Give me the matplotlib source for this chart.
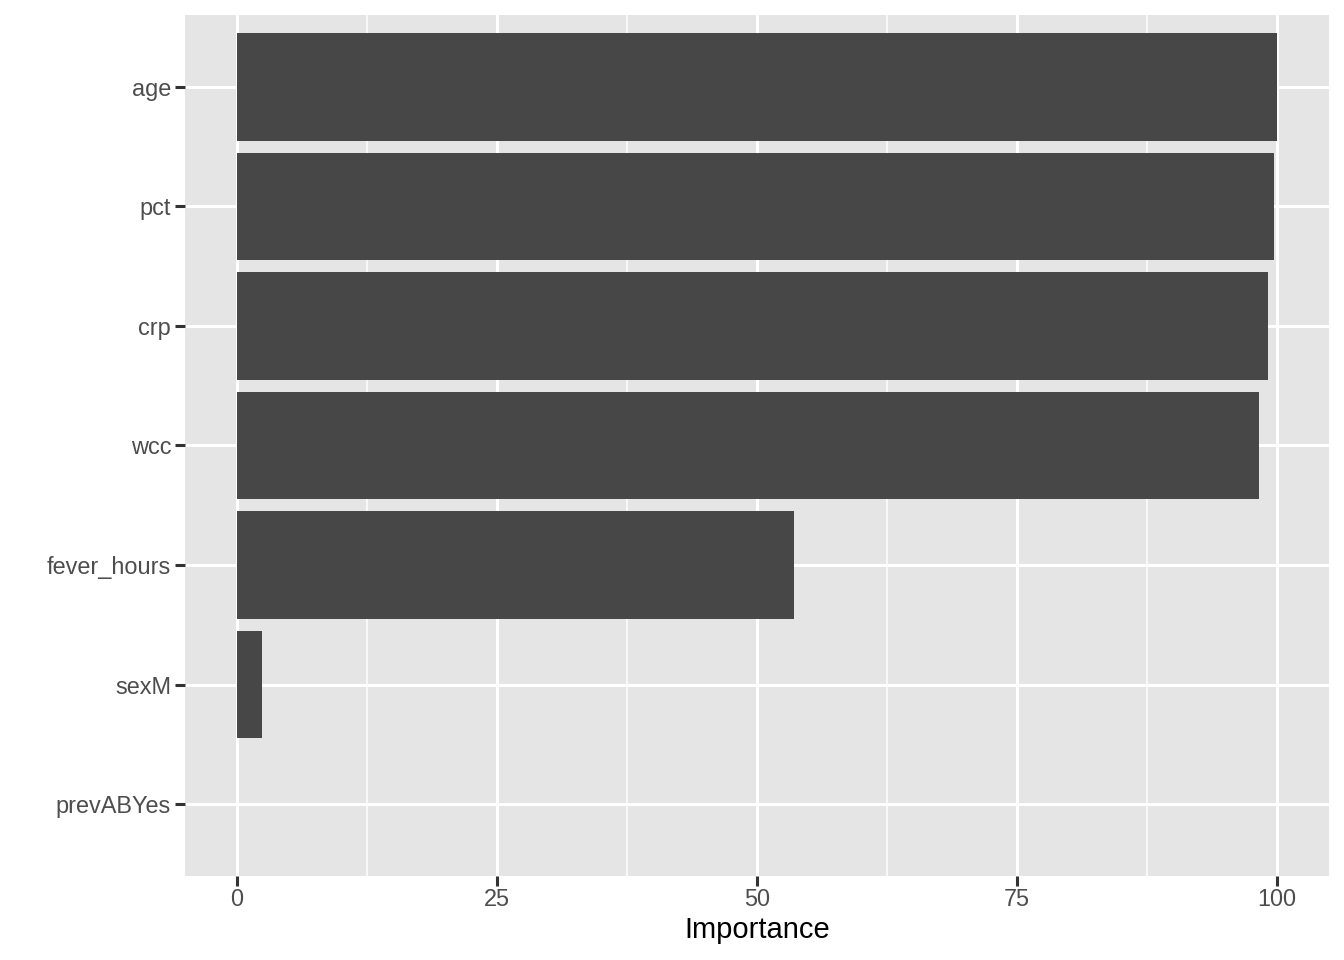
import matplotlib
matplotlib.use('Agg')
import matplotlib.pyplot as plt

# variable importance, top to bottom as shown
features = ["age", "pct", "crp", "wcc", "fever_hours", "sexM", "prevABYes"]
importance = [100.0, 99.7, 99.1, 98.3, 53.6, 2.4, 0.0]

plt.rcParams["font.family"] = ["Liberation Sans", "DejaVu Sans"]

fig = plt.figure(figsize=(13.44, 9.6), dpi=100)
ax = fig.add_axes([185 / 1344, 1 - 876 / 960, (1329 - 185) / 1344, (876 - 15) / 960])
ax.set_facecolor("#E5E5E5")

# bottom-most category at y=1, like ggplot's coord_flip
ypos = list(range(len(features), 0, -1))
ax.barh(ypos, importance, height=0.9, color="#474747", zorder=3)

ax.set_xlim(-5, 105)
ax.set_ylim(0.4, len(features) + 0.6)

ax.set_xticks([0, 25, 50, 75, 100])
ax.set_xticks([12.5, 37.5, 62.5, 87.5], minor=True)
ax.set_yticks(ypos)
ax.set_yticklabels(features)

ax.grid(True, which="major", color="white", linewidth=2.2, zorder=1)
ax.grid(True, which="minor", axis="x", color="white", linewidth=1.1, zorder=1)
ax.set_axisbelow(True)

ax.tick_params(axis="both", which="major", length=7, width=2.2, color="#333333",
               labelcolor="#4D4D4D", labelsize=16.9, pad=3)
ax.tick_params(axis="x", which="major", pad=2)
ax.tick_params(axis="both", which="minor", length=0)

for s in ax.spines.values():
    s.set_visible(False)

ax.set_xlabel("Importance", fontsize=21, color="black", labelpad=3)

fig.savefig("out.png", dpi=100)
plt.close(fig)
